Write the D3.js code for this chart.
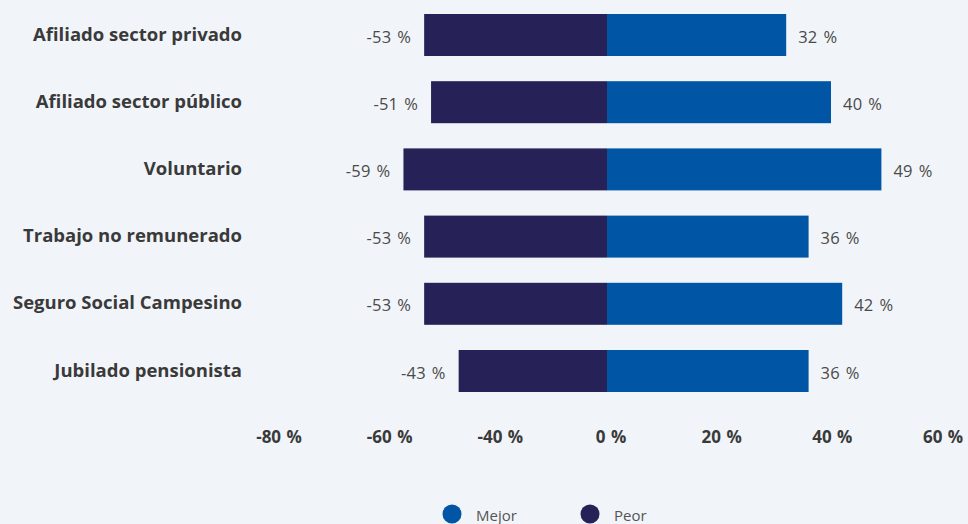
<!DOCTYPE html>
<html>
<head>
<meta charset="utf-8">
<script src="https://cdn.jsdelivr.net/npm/d3@7"></script>
<style>
  html, body { margin: 0; padding: 0; background: #f1f5f9; overflow: hidden; }
  svg { display: block; font-family: "Open Sans", sans-serif; }
</style>
</head>
<body>
<svg id="chart" width="968" height="524"></svg>
<script>
// Categories (top to bottom)
const categories = [
  "Afiliado sector privado",
  "Afiliado sector público",
  "Voluntario",
  "Trabajo no remunerado",
  "Seguro Social Campesino",
  "Jubilado pensionista"
];
// Share answering "Mejor" (better), in percent
const mejor = [32, 40, 49, 36, 42, 36];
// Share answering "Peor" (worse), in percent (negative side)
const peor = [-53, -51, -59, -53, -53, -43];
// Axis tick labels along the bottom
const tickLabels = ["-80 %", "-60 %", "-40 %", "0 %", "20 %", "40 %", "60 %"];
// Series names for the legend
const seriesNames = ["Mejor", "Peor"];

const colors = { Mejor: "#0056a4", Peor: "#262257" };
const svg = d3.select("#chart");

// Diverging horizontal scale with zero at the centre line
const x = d3.scaleLinear().domain([-100, 0, 60]).range([262, 607, 943]);

const y = d3.scaleBand()
  .domain(categories)
  .range([1.4, 404.6])
  .paddingInner(0.375)
  .paddingOuter(0.1875);

const rows = categories.map((c, i) => ({ c, mejor: mejor[i], peor: peor[i] }));

// Negative bars
svg.append("g").selectAll("rect").data(rows).join("rect")
  .attr("x", d => x(d.peor))
  .attr("y", d => y(d.c))
  .attr("width", d => x(0) - x(d.peor))
  .attr("height", y.bandwidth())
  .attr("fill", colors.Peor);

// Positive bars
svg.append("g").selectAll("rect").data(rows).join("rect")
  .attr("x", x(0))
  .attr("y", d => y(d.c))
  .attr("width", d => x(d.mejor) - x(0))
  .attr("height", y.bandwidth())
  .attr("fill", colors.Mejor);

// Value labels
const fmt = v => v + " %";
const valueLabel = sel => sel
  .attr("dominant-baseline", "central")
  .attr("font-size", 16.5)
  .attr("word-spacing", 1.5)
  .attr("letter-spacing", 0.2)
  .attr("fill", "#4a4a4a");

svg.append("g").selectAll("text").data(rows).join("text")
  .attr("x", d => x(d.peor) - 13)
  .attr("y", d => y(d.c) + y.bandwidth() / 2 + 1)
  .attr("text-anchor", "end")
  .call(valueLabel)
  .text(d => fmt(d.peor));

svg.append("g").selectAll("text").data(rows).join("text")
  .attr("x", d => x(d.mejor) + 12)
  .attr("y", d => y(d.c) + y.bandwidth() / 2 + 1)
  .attr("text-anchor", "start")
  .call(valueLabel)
  .text(d => fmt(d.mejor));

// Category labels
svg.append("g").selectAll("text").data(categories).join("text")
  .attr("x", 242)
  .attr("y", d => y(d) + y.bandwidth() / 2 - 2)
  .attr("text-anchor", "end")
  .attr("dominant-baseline", "central")
  .attr("font-size", 18.5)
  .attr("font-weight", 700)
  .attr("fill", "#3a3a3a")
  .text(d => d);

// Bottom tick labels, spread evenly along the axis
const tx = d3.scalePoint().domain(tickLabels).range([279, 943]);
svg.append("g").selectAll("text").data(tickLabels).join("text")
  .attr("x", d => tx(d))
  .attr("y", 436)
  .attr("text-anchor", "middle")
  .attr("dominant-baseline", "central")
  .attr("font-size", 17)
  .attr("font-weight", 700)
  .attr("word-spacing", 1)
  .attr("fill", "#3a3a3a")
  .text(d => d);

// Legend
const lx = d3.scalePoint().domain(seriesNames).range([452, 590]);
const lg = svg.append("g").selectAll("g").data(seriesNames).join("g")
  .attr("transform", d => `translate(${lx(d)},514)`);
lg.append("circle").attr("r", 9.5).attr("fill", d => colors[d]);
lg.append("text")
  .attr("x", 24)
  .attr("y", 1)
  .attr("dominant-baseline", "central")
  .attr("font-size", 15)
  .attr("fill", "#555")
  .text(d => d);
</script>
</body>
</html>
